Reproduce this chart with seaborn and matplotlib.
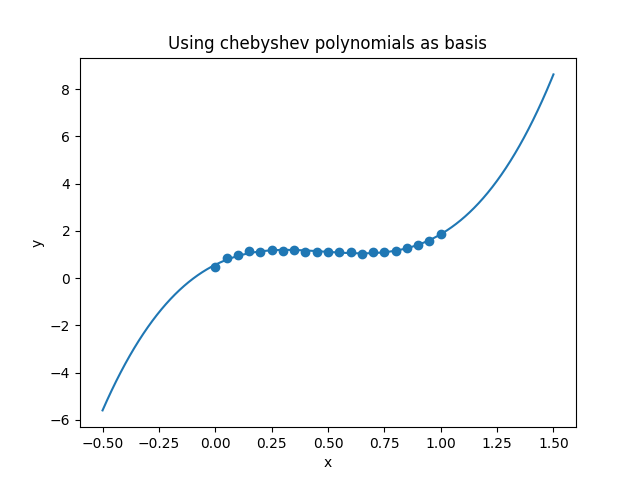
import numpy as np
import pandas as pd
import matplotlib
matplotlib.use("Agg")
import matplotlib.pyplot as plt
import seaborn as sns

# Observed sample points
x_points = [0.00, 0.05, 0.10, 0.15, 0.20, 0.25, 0.30, 0.35, 0.40, 0.45, 0.50,
            0.55, 0.60, 0.65, 0.70, 0.75, 0.80, 0.85, 0.90, 0.95, 1.00]
y_points = [0.47, 0.85, 0.96, 1.14, 1.10, 1.20, 1.16, 1.21, 1.10, 1.10, 1.10,
            1.10, 1.11, 1.01, 1.10, 1.11, 1.17, 1.27, 1.42, 1.58, 1.86]

# Cubic Chebyshev fit of the sample points, evaluated over the plotting range
x_range = (-0.5, 1.5)
cheb = np.polynomial.Chebyshev.fit(x_points, y_points, 3)
x_curve = np.linspace(x_range[0], x_range[1], 200)
y_curve = cheb(x_curve)

pts = pd.DataFrame({"x": x_points, "y": y_points})
curve = pd.DataFrame({"x": x_curve, "y": y_curve})

fig, ax = plt.subplots(figsize=(6.4, 4.8), dpi=100)
sns.lineplot(data=curve, x="x", y="y", ax=ax, color="C0", linewidth=1.5, zorder=1)
sns.scatterplot(data=pts, x="x", y="y", ax=ax, color="C0", s=36,
                edgecolor="C0", linewidth=1.0, zorder=2)
ax.set_title("Using chebyshev polynomials as basis")
ax.set_xlabel("x")
ax.set_ylabel("y")
fig.savefig("out.png", dpi=100)
